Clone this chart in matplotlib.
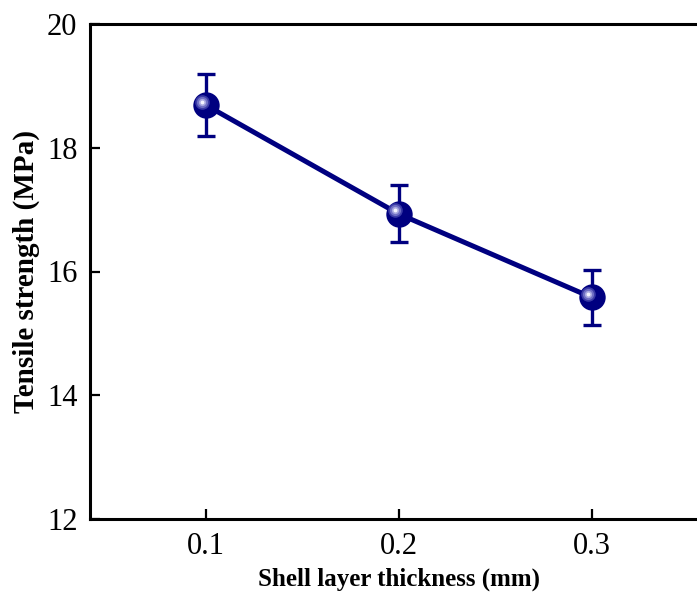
import matplotlib
matplotlib.use("Agg")
import matplotlib.pyplot as plt
from matplotlib.transforms import ScaledTranslation

# data
thickness = [0.1, 0.2, 0.3]
strength = [18.69, 16.93, 15.58]
strength_err = [0.50, 0.46, 0.45]
x_ticks = [0.1, 0.2, 0.3]
y_ticks = [12, 14, 16, 18, 20]

plt.rcParams['font.family'] = ['Liberation Serif', 'DejaVu Serif']

navy = '#000080'

fig = plt.figure(figsize=(6.97, 5.92), dpi=100)
ax = fig.add_axes([90/697, 73/592, 617.6/697, 495/592])

ax.errorbar(thickness, strength, yerr=strength_err, color=navy, lw=3.6,
            elinewidth=2.4, capsize=6.5, capthick=2.4, zorder=2)
ax.plot(thickness, strength, 'o', color=navy, ms=19, markeredgewidth=0, zorder=3)

# glossy highlight on the spheres (stacked dots, lighter toward the centre)
shift = ax.transData + ScaledTranslation(-2.5/72, 2.5/72, fig.dpi_scale_trans)
for size, col in [(10.5, '#3a3aa6'), (8, '#6f6fc4'), (5.2, '#a9a9e0'), (2.8, '#f4f4ff')]:
    ax.plot(thickness, strength, 'o', color=col, ms=size, markeredgewidth=0,
            zorder=4, transform=shift)

ax.set_xlim(0.04, 0.36)
ax.set_ylim(12, 20)
ax.set_xticks(x_ticks)
ax.set_xticklabels(['0.1', '0.2', '0.3'])
ax.set_yticks(y_ticks)

ax.spines['right'].set_visible(False)
for s in ['left', 'top', 'bottom']:
    ax.spines[s].set_linewidth(2.2)
ax.tick_params(direction='in', length=7, width=1.6, labelsize=22, pad=9,
               top=False, right=False)

ax.set_xlabel('Shell layer thickness (mm)', fontsize=18, fontweight='bold', labelpad=5)
ax.set_ylabel('Tensile strength (MPa)', fontsize=21, fontweight='bold', labelpad=5)

fig.savefig('out.png', dpi=100)
